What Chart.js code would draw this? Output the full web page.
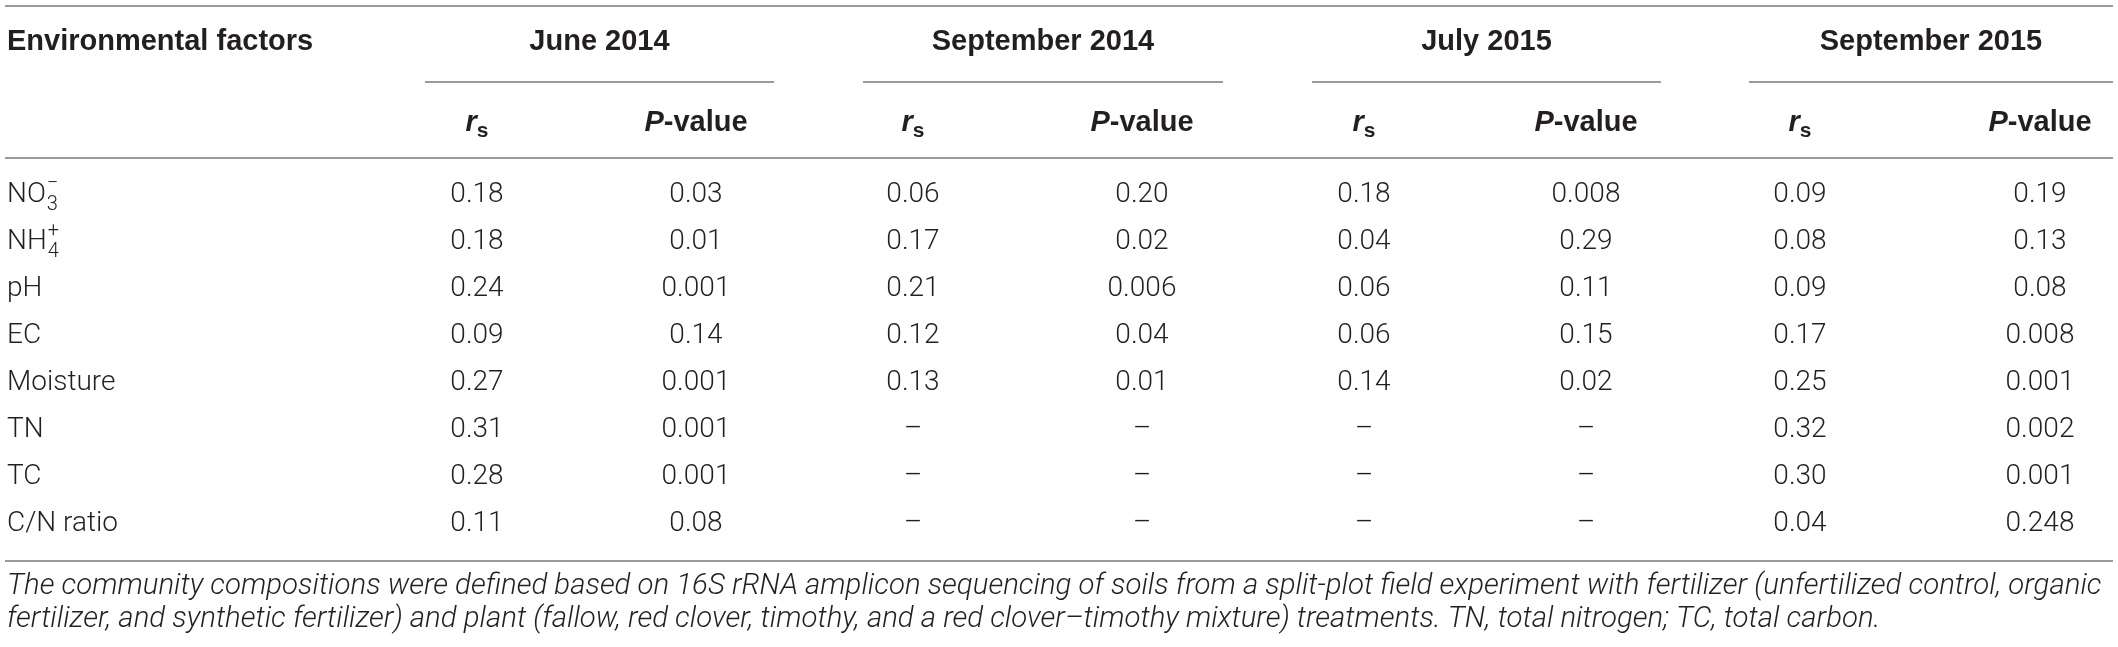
<!DOCTYPE html>
<html>
<head>
<meta charset="utf-8">
<script src="https://cdn.jsdelivr.net/npm/chart.js@4.4.1/dist/chart.umd.min.js"></script>
<style>
  html, body { margin: 0; padding: 0; background: #fff; }
  #wrap { width: 2118px; height: 647px; position: relative; }
</style>
</head>
<body>
<div id="wrap"><canvas id="tabela"></canvas></div>
<script>
  // table content
  const factors = ['NO3−', 'NH4+', 'pH', 'EC', 'Moisture', 'TN', 'TC', 'C/N ratio'];
  const periods = ['June 2014', 'September 2014', 'July 2015', 'September 2015'];
  const june2014Rs = [0.18, 0.18, 0.24, 0.09, 0.27, 0.31, 0.28, 0.11];
  const june2014P = [0.03, 0.01, 0.001, 0.14, 0.001, 0.001, 0.001, 0.08];
  const sep2014Rs = [0.06, 0.17, 0.21, 0.12, 0.13, null, null, null];
  const sep2014P = [0.20, 0.02, 0.006, 0.04, 0.01, null, null, null];
  const jul2015Rs = [0.18, 0.04, 0.06, 0.06, 0.14, null, null, null];
  const jul2015P = [0.008, 0.29, 0.11, 0.15, 0.02, null, null, null];
  const sep2015Rs = [0.09, 0.08, 0.09, 0.17, 0.25, 0.32, 0.30, 0.04];
  const sep2015P = [0.19, 0.13, 0.08, 0.008, 0.001, 0.002, 0.001, 0.248];
  const footnote = [
    'The community compositions were defined based on 16S rRNA amplicon sequencing of soils from a split-plot field experiment with fertilizer (unfertilized control, organic',
    'fertilizer, and synthetic fertilizer) and plant (fallow, red clover, timothy, and a red clover–timothy mixture) treatments. TN, total nitrogen; TC, total carbon.'
  ];

  // layout (pixel units on the x scale)
  const colX = [477, 696, 913, 1142, 1364, 1586, 1800, 2040];
  const groupSpan = [[425, 774], [863, 1223], [1312, 1661], [1749, 2113]];
  const labelX = 7;
  const textColor = '#231f20';
  const ruleColor = '#9a9a9a';
  const fontData = '300 28px Roboto';
  const fontHead = 'bold 29px "Liberation Sans"';
  const fontHeadIt = 'italic bold 29px "Liberation Sans"';

  const columns = [june2014Rs, june2014P, sep2014Rs, sep2014P, jul2015Rs, jul2015P, sep2015Rs, sep2015P];

  function fmt(v, isP) {
    if (v === null) return '–';
    if (!isP) return v.toFixed(2);
    const s = String(v);
    const dec = s.split('.')[1].length;
    return dec < 2 ? v.toFixed(2) : s;
  }

  const datasets = columns.map((col, i) => ({
    label: 'c' + i,
    data: col.map((v, j) => ({ x: colX[i], y: factors[j] })),
    texts: col.map(v => fmt(v, i % 2 === 1)),
    align: 'center',
    pointRadius: 0
  }));
  datasets.unshift({
    label: 'factors',
    data: factors.map(f => ({ x: labelX, y: f })),
    texts: factors,
    align: 'left',
    pointRadius: 0
  });

  function drawChem(ctx, txt, x, y) {
    const m = txt.match(/^([A-Z]+)(\d)([+−])$/);
    if (!m) { ctx.fillText(txt, x, y); return; }
    ctx.fillText(m[1], x, y);
    const w = ctx.measureText(m[1]).width;
    ctx.save();
    ctx.font = '300 20px Roboto';
    ctx.fillText(m[2], x + w + 1, y + 10);
    ctx.fillText(m[3], x + w + 1, y - 11);
    ctx.restore();
  }

  const tablePlugin = {
    id: 'tablePlugin',
    afterDatasetsDraw(chart) {
      const ctx = chart.ctx;
      const xs = chart.scales.x;
      ctx.save();
      ctx.fillStyle = textColor;
      ctx.textBaseline = 'middle';

      // cells
      ctx.font = fontData;
      chart.data.datasets.forEach((ds, i) => {
        const meta = chart.getDatasetMeta(i);
        ctx.textAlign = ds.align;
        meta.data.forEach((pt, j) => {
          if (ds.label === 'factors') drawChem(ctx, ds.texts[j], pt.x, pt.y);
          else ctx.fillText(ds.texts[j], pt.x, pt.y);
        });
      });

      // header row
      ctx.font = fontHead;
      ctx.textAlign = 'left';
      ctx.fillText('Environmental factors', xs.getPixelForValue(labelX), 42);
      ctx.textAlign = 'center';
      periods.forEach((p, g) => {
        const mid = (groupSpan[g][0] + groupSpan[g][1]) / 2;
        ctx.fillText(p, xs.getPixelForValue(mid), 42);
      });

      // sub header row
      ctx.textAlign = 'left';
      colX.forEach((cx, i) => {
        const px = xs.getPixelForValue(cx);
        if (i % 2 === 0) {
          ctx.font = fontHeadIt;
          const w1 = ctx.measureText('r').width;
          ctx.font = 'bold 21px "Liberation Sans"';
          const w2 = ctx.measureText('s').width;
          const x0 = px - (w1 + w2) / 2;
          ctx.font = fontHeadIt;
          ctx.fillText('r', x0, 123);
          ctx.font = 'bold 21px "Liberation Sans"';
          ctx.fillText('s', x0 + w1, 131);
        } else {
          ctx.font = fontHeadIt;
          const w1 = ctx.measureText('P').width;
          ctx.font = fontHead;
          const w2 = ctx.measureText('-value').width;
          const x0 = px - (w1 + w2) / 2;
          ctx.font = fontHeadIt;
          ctx.fillText('P', x0, 123);
          ctx.font = fontHead;
          ctx.fillText('-value', x0 + w1, 123);
        }
      });

      // rules
      ctx.strokeStyle = ruleColor;
      ctx.lineWidth = 2;
      const rule = (a, b, y) => {
        ctx.beginPath();
        ctx.moveTo(xs.getPixelForValue(a), y);
        ctx.lineTo(xs.getPixelForValue(b), y);
        ctx.stroke();
      };
      rule(5, 2113, 6);
      groupSpan.forEach(s => rule(s[0], s[1], 82));
      rule(5, 2113, 158);
      rule(5, 2113, 561);

      // footnote, first line stretched to the table width
      ctx.font = 'italic 300 26px Roboto';
      const fw = ctx.measureText(footnote[0]).width;
      const fs = 26 * (xs.getPixelForValue(2102) - xs.getPixelForValue(labelX)) / fw;
      ctx.font = 'italic 300 ' + fs.toFixed(2) + 'px Roboto';
      ctx.textAlign = 'left';
      ctx.fillText(footnote[0], xs.getPixelForValue(labelX), 587);
      ctx.fillText(footnote[1], xs.getPixelForValue(labelX), 620);
      ctx.restore();
    }
  };

  const tabela = new Chart(document.getElementById('tabela'), {
    type: 'scatter',
    data: { datasets: datasets },
    options: {
      responsive: true,
      maintainAspectRatio: false,
      animation: false,
      layout: { padding: { top: 172, bottom: 100, left: 0, right: 0 } },
      plugins: { legend: { display: false }, tooltip: { enabled: false } },
      scales: {
        x: { type: 'linear', min: 0, max: 2118, display: false },
        y: { type: 'category', labels: factors, offset: true, display: false }
      }
    },
    plugins: [tablePlugin]
  });
</script>
</body>
</html>
